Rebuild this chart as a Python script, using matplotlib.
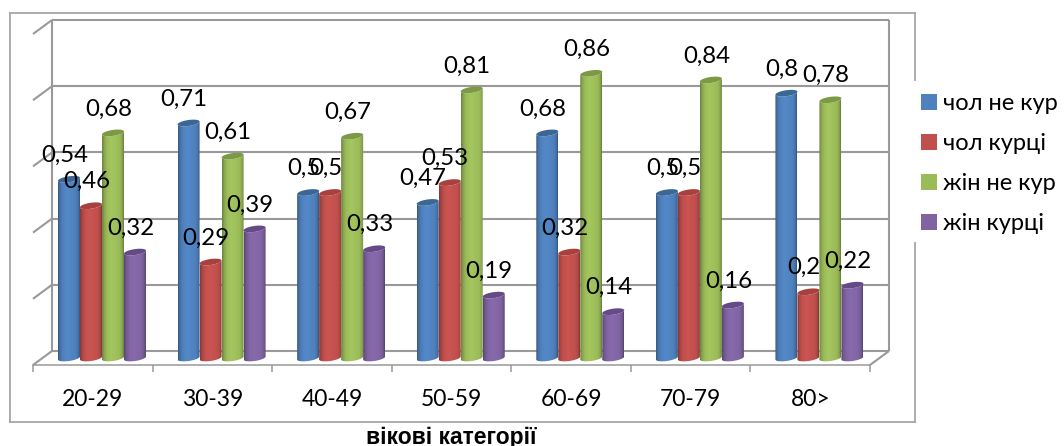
import numpy as np
import matplotlib
matplotlib.use("Agg")
import matplotlib.pyplot as plt
from matplotlib.lines import Line2D
from matplotlib.colors import to_rgb

categories = ["20-29", "30-39", "40-49", "50-59", "60-69", "70-79", "80>"]
series_names = ["чол не кур", "чол курці", "жін не кур", "жін курці"]
men_nonsmokers = [0.54, 0.71, 0.5, 0.47, 0.68, 0.5, 0.8]
men_smokers = [0.46, 0.29, 0.5, 0.53, 0.32, 0.5, 0.2]
women_nonsmokers = [0.68, 0.61, 0.67, 0.81, 0.86, 0.84, 0.78]
women_smokers = [0.32, 0.39, 0.33, 0.19, 0.14, 0.16, 0.22]
series_values = [men_nonsmokers, men_smokers, women_nonsmokers, women_smokers]
colors = ["#4F81BD", "#C0504D", "#9BBB59", "#8064A2"]
top_colors = ["#3B6794", "#A8403D", "#7C9A45", "#654A88"]
y_ticks = [0, 0.2, 0.4, 0.6, 0.8, 1.0]

W, H = 1064, 446
FONT = ["Lato", "Open Sans", "DejaVu Sans"]
plt.rcParams["font.family"] = FONT
GRAY = "#999999"
TXT = "#000000"

fig = plt.figure(figsize=(W / 100, H / 100), dpi=100, facecolor="white")
# axes: x 33..870 px (front floor), y 365..20 px
ax = fig.add_axes([33 / W, 1 - 365 / H, (870 - 33) / W, (365 - 20) / H])
PXY = 331.0                     # pixels per unit of value
PXX = (870 - 33) / 7            # pixels per category
dz = 7 / PXY                    # half-depth in value units
dx = 19 / PXX                   # depth offset in category units
ax.set_xlim(0, 7)
ax.set_ylim(-dz, 1 + dz)
ax.autoscale(False)
ax.patch.set_visible(False)

# 3-D "walls"
wall = dict(color=GRAY, lw=1.5, zorder=1, clip_on=False, solid_capstyle="butt")
for v in y_ticks:
    ax.plot([dx, 7 + dx], [v + dz, v + dz], **wall)
    ax.plot([0, dx], [v - dz, v + dz], **wall)
ax.plot([dx, dx], [dz, 1 + dz], **wall)
ax.plot([7 + dx, 7 + dx], [dz, 1 + dz], **wall)
ax.plot([7, 7 + dx], [-dz, dz], **wall)

# spines, ticks
for s in ("top", "right", "left"):
    ax.spines[s].set_visible(False)
ax.spines["bottom"].set_color(GRAY)
ax.spines["bottom"].set_linewidth(1.1)
ax.set_yticks([])
ax.set_xticks(np.arange(len(categories)) + 0.5, categories)
ax.set_xticks(np.arange(len(categories) + 1), minor=True)
ax.tick_params(axis="x", which="major", length=0, pad=17.5, labelsize=16.5, labelcolor=TXT)
ax.tick_params(axis="x", which="minor", length=5, width=1.1, color=GRAY, direction="out")
ax.set_xlabel("вікові категорії", fontweight="bold", fontsize=16.5, color=TXT,
              family=["Liberation Sans", "DejaVu Sans"], labelpad=11.5)

# cylinders
BAR = 22 / PXX
ELL = 3.0 / PXY
TILT = 1.5 / PXY
GROUP_SHIFT = 0.077
stops = [0, 0.1, 0.22, 0.42, 0.8, 0.93, 1.0]
factors = [0.70, 0.88, 1.0, 1.06, 1.0, 0.88, 0.66]
N = 64
t = np.linspace(0, 1, N)
shade = np.interp(t, stops, factors)
for j, (vals, name) in enumerate(zip(series_values, series_names)):
    base = np.array(to_rgb(colors[j]))
    grad = np.clip(base[None, None, :] * shade[None, :, None], 0, 1)
    xs = np.arange(len(vals)) + 0.5 + GROUP_SHIFT + (j - 1.5) * BAR
    bars = ax.bar(xs, vals, width=BAR, color=colors[j], label=name, zorder=3 + j * 0.1, lw=0)
    for x, v, rect in zip(xs, vals, bars):
        rect.set_visible(False)
        th = np.linspace(np.pi, 2 * np.pi, 40)
        ex = x + BAR / 2 * np.cos(th)
        # cylinder body: lower arc at the base, straight sides, upper arc at the top
        px = np.r_[ex, x + BAR / 2 * np.cos(th[::-1])]
        py = np.r_[ELL * np.sin(th) + TILT * np.cos(th),
                   v + ELL * np.sin(th[::-1]) + TILT * np.cos(th[::-1])]
        im = ax.imshow(grad, extent=(x - BAR / 2, x + BAR / 2, -3 * ELL, v + 3 * ELL),
                       aspect="auto", interpolation="bilinear", zorder=3 + j * 0.1)
        poly = plt.Polygon(np.c_[px, py], closed=True, transform=ax.transData)
        im.set_clip_path(poly)
        top_th = np.linspace(0, 2 * np.pi, 60)
        ax.fill(x + BAR / 2 * np.cos(top_th),
                v + ELL * np.sin(top_th) + TILT * np.cos(top_th),
                color=top_colors[j], lw=0, zorder=3.02 + j * 0.1)
        ax.annotate(f"{v:g}".replace(".", ","), (x, v), xytext=(-4.5 * 0.72, 24 * 0.72),
                    textcoords="offset points", ha="center", va="center",
                    fontsize=17.3, color=TXT, zorder=10, annotation_clip=False)

# legend
handles, labels = ax.get_legend_handles_labels()
leg = fig.legend(handles, labels, loc="upper left", bbox_to_anchor=(921 / W, 1 - 93 / H),
                 frameon=False, fontsize=17, handlelength=0.66, handleheight=0.66,
                 handletextpad=0.28, labelspacing=0.81, borderpad=0, borderaxespad=0)
for h in leg.legend_handles:
    h.set_visible(True)
for t_ in leg.get_texts():
    t_.set_color(TXT)

# outer chart frame, interrupted by the legend
frame = [((10, 13), (915, 13)), ((10, 13), (10, 422)), ((10, 422), (915, 422)),
         ((915, 13), (915, 80)), ((915, 243), (915, 422))]
for (x0, y0), (x1, y1) in frame:
    fig.add_artist(Line2D([x0 / W, x1 / W], [1 - y0 / H, 1 - y1 / H], color="#A6A6A6", lw=1.3,
                          transform=fig.transFigure))

fig.savefig("out.png", dpi=100)
